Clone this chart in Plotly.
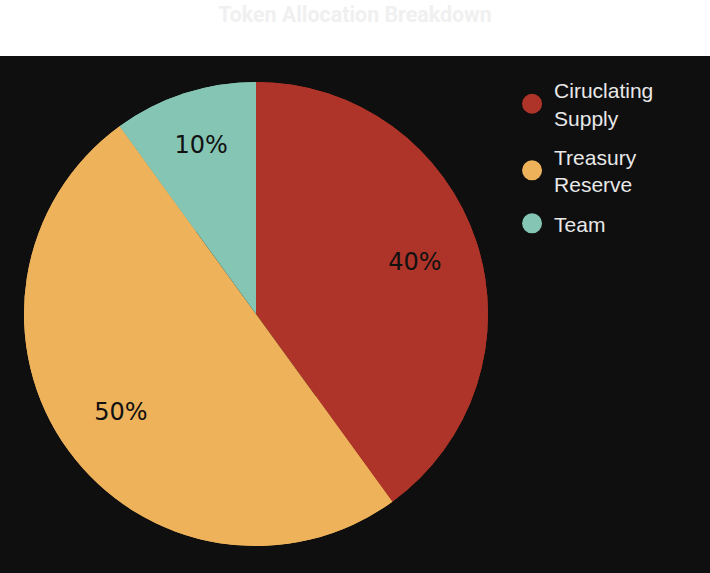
import plotly.graph_objects as go

labels = ["Ciruclating<br>Supply", "Treasury<br>Reserve", "Team"]
values = [40, 50, 10]
colors = ["#AE3429", "#EEB25A", "#85C5B3"]
title = "Token Allocation Breakdown"

dom = dict(x=[24/710, 488/710], y=[27/517, 491/517])
fig = go.Figure()
# full pie (fill)
fig.add_trace(go.Pie(
    labels=labels, values=values, sort=False, direction="clockwise", rotation=0,
    marker=dict(colors=colors, line=dict(width=0)),
    textinfo="none", showlegend=False, hoverinfo="skip", domain=dom,
))
# ring on top, carries the percentage labels
fig.add_trace(go.Pie(
    labels=labels, values=values, sort=False, direction="clockwise", rotation=0,
    hole=0.44,
    marker=dict(colors=colors, line=dict(width=0)),
    textinfo="percent", texttemplate="%{percent:.0%}",
    textposition="inside", insidetextorientation="horizontal",
    textfont=dict(family="DejaVu Sans", size=24, color="#111111"),
    showlegend=False, hoverinfo="label+percent", domain=dom,
))
for lab, col in zip(labels, colors):
    fig.add_trace(go.Scatter(
        x=[None], y=[None], mode="markers", name=lab, legendgroup=lab,
        marker=dict(symbol="circle", size=16, color=col, line=dict(width=4, color=col)),
    ))

fig.update_layout(
    width=710, height=573,
    margin=dict(l=0, r=0, t=56, b=0),
    paper_bgcolor="white", plot_bgcolor="#0F0F0F",
    title=dict(text="<b>" + title + "</b>", x=0.5, xanchor="center", y=0.975, yanchor="middle",
               font=dict(family="Roboto", size=21.4, color="#F0F0F0")),
    xaxis=dict(visible=False, range=[0, 1]),
    yaxis=dict(visible=False, range=[0, 1]),
    legend=dict(x=0.7184, y=0.973, xanchor="left", yanchor="top",
                font=dict(family="Liberation Sans", size=21, color="#E8E8E8"),
                bgcolor="rgba(0,0,0,0)", tracegroupgap=9, itemsizing="trace",
                itemwidth=34),
)
fig.write_html("out.html", post_script="document.body.style.margin='0px';",
               config={"displayModeBar": False})
